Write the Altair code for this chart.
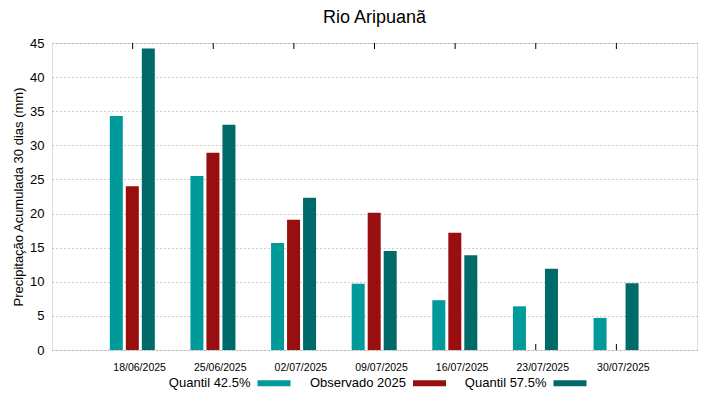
import altair as alt
import pandas as pd

dates = ["18/06/2025", "25/06/2025", "02/07/2025", "09/07/2025",
         "16/07/2025", "23/07/2025", "30/07/2025"]
series = ["Quantil 42.5%", "Observado 2025", "Quantil 57.5%"]
q425 = [34.3, 25.5, 15.7, 9.7, 7.3, 6.4, 4.7]
obs = [24.0, 28.9, 19.1, 20.1, 17.2, None, None]
q575 = [44.2, 33.0, 22.3, 14.5, 13.9, 11.9, 9.8]
colors = ["#009a9a", "#990e0e", "#006a6a"]
y_ticks = [0, 5, 10, 15, 20, 25, 30, 35, 40, 45]

rows = []
for name, vals in zip(series, [q425, obs, q575]):
    for d, v in zip(dates, vals):
        if v is not None:
            rows.append({"data": d, "serie": name, "valor": v})
df = pd.DataFrame(rows)
df_dates = pd.DataFrame({"data": dates})

font = "Liberation Sans"

x_enc = alt.X("data:N", sort=dates,
              scale=alt.Scale(domain=dates, paddingInner=0, paddingOuter=0.5),
              axis=alt.Axis(title=None, labelAngle=0, labelAlign="center",
                            labelBaseline="top", labelFontSize=10.5,
                            labelFont=font, labelColor="#000000", ticks=False,
                            domain=False, labelPadding=12, labelOffset=7))

bars = alt.Chart(df).mark_bar().encode(
    x=x_enc,
    xOffset=alt.XOffset("serie:N", sort=series,
                        scale=alt.Scale(domain=series, paddingInner=0.1875,
                                        paddingOuter=0.09375, range=[16, 64])),
    y=alt.Y("valor:Q",
            scale=alt.Scale(domain=[0, 45], nice=False, zero=True),
            axis=alt.Axis(title="Precipitação Acumulada 30 dias (mm)",
                          values=y_ticks, grid=True, gridDash=[1, 3],
                          gridColor="#9a9a9a", gridWidth=1,
                          ticks=False, domain=False,
                          labelFontSize=13, labelFont=font, labelColor="#000000",
                          labelPadding=8, titleFontSize=13, titleFont=font,
                          titleFontWeight="normal", titleColor="#000000",
                          titlePadding=4)),
    color=alt.Color("serie:N", sort=series,
                    scale=alt.Scale(domain=series, range=colors),
                    legend=alt.Legend(
                        title=None, orient="none", direction="horizontal",
                        legendX=205.5, legendY=323.5,
                        symbolType="M-1,-0.18L1,-0.18L1,0.18L-1,0.18Z",
                        symbolSize=1089, symbolStrokeWidth=0, symbolOpacity=1,
                        labelAlign="right", labelOffset={"expr": "-40"},
                        labelFontSize=13, labelFont=font, labelColor="#000000",
                        columnPadding=18.5)),
)

top_ticks = alt.Chart(df_dates).mark_rule(color="#000000", strokeWidth=1).encode(
    x=alt.X("data:N", sort=dates), y=alt.value(0), y2=alt.value(6))
bottom_ticks = alt.Chart(df_dates).mark_rule(color="#000000", strokeWidth=1).encode(
    x=alt.X("data:N", sort=dates), y=alt.value(301), y2=alt.value(307))

chart = alt.layer(top_ticks, bottom_ticks, bars).properties(
    width=645, height=307,
    title=alt.TitleParams("Rio Aripuanã", fontSize=18, font=font,
                          fontWeight="normal", color="#000000", anchor="middle",
                          offset=10),
    autosize=alt.AutoSizeParams(type="none"),
    padding={"left": 44, "top": 35, "right": 6, "bottom": 41},
).configure_view(stroke="#000000", strokeWidth=1).configure(background="#ffffff")

chart.save("out.html", embed_options={"renderer": "svg", "actions": False})
